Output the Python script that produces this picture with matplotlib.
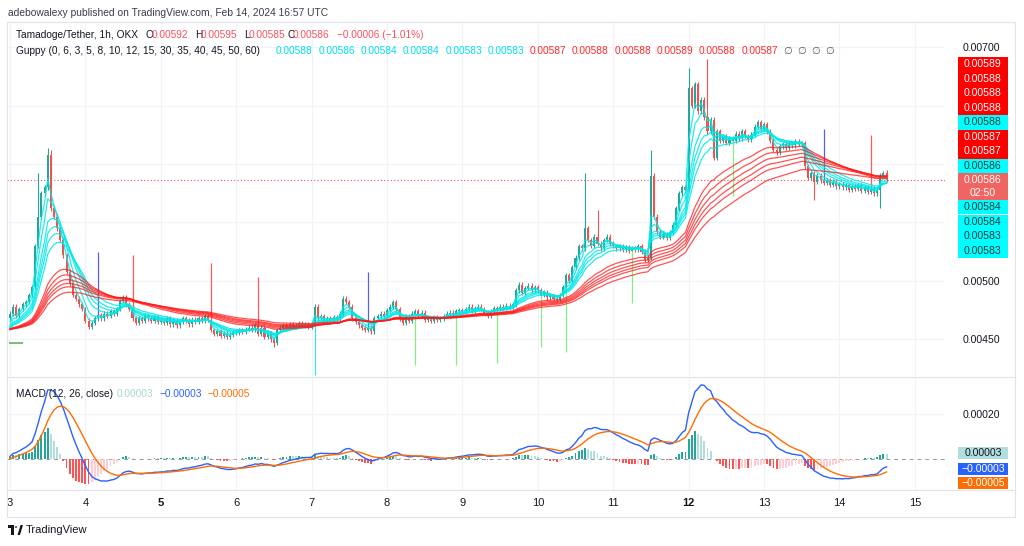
import numpy as np
import matplotlib
matplotlib.use('Agg')
import matplotlib.pyplot as plt
from matplotlib.patches import Rectangle, Polygon, Circle
from matplotlib.transforms import blended_transform_factory

plt.rcParams['font.family'] = ['Liberation Sans', 'DejaVu Sans']

# ---------------- data (prices in units of 1e-5 USDT, hourly from Feb 3 00:00 UTC) -------------
day_labels = ['3', '4', '5', '6', '7', '8', '9', '10', '11', '12', '13', '14', '15']
bold_days = ['5', '12']

prior_level = 458   # average level of the history before Feb 3 (seeds the moving averages)
first_open = 468
c03 = [472, 478, 470, 476, 480, 482, 488, 495, 530, 555, 575, 580, 608, 562, 555, 545, 535, 522, 508, 498, 488, 485, 480, 476]
c04 = [466, 461, 464, 468, 471, 468, 472, 470, 474, 472, 476, 483, 486, 480, 476, 468, 464, 468, 466, 470, 468, 466, 469, 465]
c05 = [466, 464, 468, 463, 466, 462, 465, 468, 466, 463, 467, 465, 468, 466, 470, 467, 458, 455, 457, 453, 455, 452, 454, 456]
c06 = [456, 458, 457, 459, 460, 458, 462, 455, 460, 452, 455, 450, 447, 458, 460, 462, 460, 463, 461, 462, 464, 462, 463, 461]
c07 = [463, 478, 468, 470, 466, 468, 467, 469, 468, 472, 485, 482, 478, 468, 465, 462, 460, 458, 460, 457, 468, 470, 472, 470]
c08 = [475, 478, 482, 476, 468, 464, 470, 466, 472, 474, 470, 473, 467, 468, 466, 469, 467, 468, 470, 472, 473, 471, 474, 475]
c09 = [474, 476, 478, 475, 477, 478, 476, 473, 470, 474, 477, 476, 478, 477, 479, 478, 480, 492, 497, 490, 494, 496, 492, 495]
c10 = [492, 488, 490, 486, 487, 485, 484, 488, 495, 505, 500, 512, 520, 530, 528, 545, 535, 530, 538, 532, 528, 535, 538, 532]
c11 = [530, 528, 530, 527, 529, 526, 528, 527, 530, 525, 518, 520, 590, 555, 542, 538, 540, 537, 542, 548, 562, 575, 580, 578]
c12 = [665, 650, 668, 645, 655, 640, 628, 638, 605, 628, 620, 624, 618, 622, 620, 626, 622, 628, 624, 621, 625, 632, 636, 630]
c13 = [634, 628, 620, 612, 610, 615, 617, 614, 618, 616, 619, 617, 618, 598, 588, 592, 585, 590, 586, 584, 586, 582, 585, 581]
c14 = [583, 580, 582, 578, 581, 579, 582, 577, 580, 576, 579, 575, 578, 590, 592, 586]

# candles with notable wicks (same colour as the candle)
extra_high_index = [9, 12, 13, 183, 187, 204, 216, 222, 279]
extra_high_price = [592, 614, 612, 592, 561, 612, 682, 690, 595]
extra_low_index = [256, 277, 84, 279]
extra_low_price = [569, 562, 444, 585]

# isolated long spikes drawn in their own colour
spike_index = [28, 114, 259, 39, 64, 79, 274, 129, 142, 155, 169, 177, 198, 230, 97]
spike_price = [525, 508, 630, 522, 515, 503, 625, 428, 428, 430, 444, 439, 481, 573, 420]
spike_color = ['#5b5fe0', '#5b5fe0', '#5b5fe0', '#ff5a5a', '#ff5a5a', '#ff5a5a', '#ff5a5a',
               '#86ec86', '#86ec86', '#86ec86', '#86ec86', '#86ec86', '#86ec86', '#86ec86', '#3fe3e3']

marker_price = 447  # small green dash at left edge

guppy_short = [3, 5, 8, 10, 12, 15]
guppy_long = [30, 35, 40, 45, 50, 60]

header_text = 'adebowalexy published on TradingView.com, Feb 14, 2024 16:57 UTC'
symbol_text = 'Tamadoge/Tether, 1h, OKX'
ohlc_letters = ['O', 'H', 'L', 'C']
ohlc_values = ['0.00592', '0.00595', '0.00585', '0.00586']
change_text = '\u22120.00006 (\u22121.01%)'
guppy_title = 'Guppy (0, 6, 3, 5, 8, 10, 12, 15, 30, 35, 40, 45, 50, 60)'
guppy_short_last = ['0.00588', '0.00586', '0.00584', '0.00584', '0.00583', '0.00583']
guppy_long_last = ['0.00587', '0.00588', '0.00588', '0.00589', '0.00588', '0.00587']
macd_title = 'MACD (12, 26, close)'
macd_last = ['0.00003', '\u22120.00003', '\u22120.00005']

tag_values = ['0.00589', '0.00588', '0.00588', '0.00588', '0.00588', '0.00587', '0.00587',
              '0.00586', '0.00586\n02:50', '0.00584', '0.00584', '0.00583', '0.00583']
tag_kinds = ['L', 'L', 'L', 'L', 'S', 'L', 'L', 'S', 'P', 'S', 'S', 'S', 'S']

price_ticks = [0.0045, 0.0050, 0.0055, 0.0060, 0.0065, 0.0070]
macd_ticks = [0.0002]

# ---------------- derived series ----------------
closes = np.array(c03 + c04 + c05 + c06 + c07 + c08 + c09 + c10 + c11 + c12 + c13 + c14, dtype=float) * 1e-5
n = len(closes)
idx = np.arange(n)
opens = np.concatenate([[first_open * 1e-5], closes[:-1]])
opens[279] = 592e-5
highs = np.maximum(opens, closes) + 2e-5
lows = np.minimum(opens, closes) - 2e-5
for i, p in zip(extra_high_index, extra_high_price):
    highs[i] = p * 1e-5
for i, p in zip(extra_low_index, extra_low_price):
    lows[i] = p * 1e-5


def ema(x, period, seed=None):
    a = 2.0 / (period + 1)
    out = np.empty_like(x)
    prev = x[0] if seed is None else seed
    for k in range(len(x)):
        prev = a * x[k] + (1 - a) * prev
        out[k] = prev
    return out


seed = prior_level * 1e-5
macd = ema(closes, 12, seed) - ema(closes, 26, seed)
signal = ema(macd, 9, 0.0)
hist = macd - signal

# ---------------- figure ----------------
W, H = 1024, 546
fig = plt.figure(figsize=(W / 100, H / 100), dpi=100)
fig.patch.set_facecolor('white')


def fx(x):
    return x / W


def fy(y):
    return 1 - y / H


L, R = 7, 945
ax = fig.add_axes([fx(L), fy(376), fx(R) - fx(L), fy(22) - fy(376)])
axm = fig.add_axes([fx(L), fy(490), fx(R) - fx(L), fy(378) - fy(490)])

xmin, xmax = -0.955, 297.6
day_pos = [24 * d for d in range(len(day_labels))]
grid_c = '#f0f3fa'
for a in (ax, axm):
    a.set_xlim(xmin, xmax)
    for s in a.spines.values():
        s.set_visible(False)
    a.set_xticks(day_pos)
    a.tick_params(axis='x', length=0, labelbottom=False)
    a.grid(True, color=grid_c, lw=0.9)
    a.set_axisbelow(True)

ax.set_ylim(0.004188, 0.0072137)
ax.yaxis.tick_right()
ax.set_yticks(price_ticks)
ax.set_yticklabels(['%.5f' % v for v in price_ticks])
ax.tick_params(axis='y', length=0, pad=13, labelsize=7.6, labelcolor='#131722')

# candles
up_c, dn_c = '#26a69a', '#ef5350'
cols = np.where(closes >= opens, up_c, dn_c)
ax.vlines(idx, lows, highs, colors=list(cols), lw=0.8, zorder=2)
body_h = closes - opens
body_h = np.where(np.abs(body_h) < 0.4e-5, 0.4e-5, body_h)
ax.bar(idx, body_h, bottom=opens, width=0.66, color=cols, lw=0, zorder=3)
# long spikes
for i, p, c in zip(spike_index, spike_price, spike_color):
    base = max(opens[i], closes[i]) if p * 1e-5 > closes[i] else min(opens[i], closes[i])
    ax.vlines(i, base, p * 1e-5, colors=c, lw=0.9, zorder=2)
ax.hlines(marker_price * 1e-5, -0.3, 4.2, colors='#5cb85c', lw=1.2, zorder=2)

# guppy
for p in guppy_short:
    ax.plot(idx, ema(closes, p, seed), color='#00e8e8', lw=0.9, alpha=0.85, zorder=4)
for p in guppy_long:
    ax.plot(idx, ema(closes, p, seed), color='#ff1a1a', lw=0.9, alpha=0.75, zorder=4)

# last price line
ax.axhline(closes[-1], color='#ef5350', lw=0.8, ls=(0, (1, 2)), zorder=1)

# MACD pane
axm.set_ylim(-0.000138, 0.00036)
axm.yaxis.tick_right()
axm.set_yticks(macd_ticks)
axm.set_yticklabels(['%.5f' % v for v in macd_ticks])
axm.tick_params(axis='y', length=0, pad=13, labelsize=7.6, labelcolor='#131722')
hcols = []
for k in range(n):
    prev = hist[k - 1] if k > 0 else hist[k]
    if hist[k] >= 0:
        hcols.append('#26a69a' if hist[k] >= prev else '#b2dfdb')
    else:
        hcols.append('#ffcdd2' if hist[k] >= prev else '#ff5252')
axm.axhline(0, color='#9598a1', lw=0.7, ls=(0, (4, 4)), zorder=1)
axm.bar(idx, hist, width=0.6, color=hcols, lw=0, zorder=2)
axm.plot(idx, macd, color='#2962ff', lw=1.0, zorder=3)
axm.plot(idx, signal, color='#ff6d00', lw=1.0, zorder=3)

# time labels
trans = blended_transform_factory(axm.transData, fig.transFigure)
for d, lab in zip(day_pos, day_labels):
    axm.text(d, fy(503), lab, ha='center', va='center', fontsize=8,
             fontweight='bold' if lab in bold_days else 'normal', color='#131722',
             transform=trans, clip_on=False)

# frame / separators
line_c = '#e0e3eb'
fig.add_artist(Rectangle((fx(7), fy(517)), fx(1015) - fx(7), fy(22) - fy(517), fill=False,
                         edgecolor=line_c, lw=0.8, transform=fig.transFigure))
fig.add_artist(plt.Line2D([fx(7), fx(1015)], [fy(377), fy(377)], color=line_c, lw=0.8))
fig.add_artist(plt.Line2D([fx(7), fx(1015)], [fy(490), fy(490)], color=line_c, lw=0.8))

# header texts
dark = '#131722'
red_t = '#f7525f'
fs = 7.3
fig.text(fx(8), fy(13), header_text, fontsize=7.4, color='#3a3e4a', va='center')
fig.text(fx(16), fy(35), symbol_text, fontsize=fs, color=dark, va='center')
for xl, xv, letter, val in zip([146, 195, 244, 287], [152, 201, 249, 293], ohlc_letters, ohlc_values):
    fig.text(fx(xl), fy(35), letter, fontsize=fs, color=dark, va='center')
    fig.text(fx(xv), fy(35), val, fontsize=fs, color=red_t, va='center')
fig.text(fx(337), fy(35), change_text, fontsize=fs, color=red_t, va='center')
fig.text(fx(16), fy(51), guppy_title, fontsize=fs, color=dark, va='center')
for k, v in enumerate(guppy_short_last + guppy_long_last):
    fig.text(fx(276 + 42.3 * k), fy(51), v, fontsize=fs,
             color='#00e0e8' if k < 6 else '#ff2a2a', va='center')
for xk in [783, 797, 811, 825]:
    fig.text(fx(xk), fy(51), '\u2205', fontsize=fs, color='#555a66', va='center')

fig.text(fx(16), fy(394), macd_title, fontsize=fs, color=dark, va='center')
for xk, v, c in zip([117, 160, 208], macd_last, ['#a8d8d2', '#2962ff', '#ff6d00']):
    fig.text(fx(xk), fy(394), v, fontsize=fs, color=c, va='center')

# price-scale tags
kind_style = {'L': ('#ff0000', 'white'), 'S': ('#00ffff', '#0d3b3b'), 'P': ('#ef5350', 'white')}
ytop = 57.0
for v, kd in zip(tag_values, tag_kinds):
    h = 27.0 if kd == 'P' else 14.5
    fc, tc = kind_style[kd]
    fig.add_artist(Rectangle((fx(958), fy(ytop + h)), fx(1008) - fx(958), fy(ytop) - fy(ytop + h),
                             facecolor=fc, edgecolor='none', alpha=0.9 if kd == 'P' else 1.0,
                             transform=fig.transFigure, zorder=5))
    if kd == 'P':
        a_, b_ = v.split('\n')
        fig.text(fx(983), fy(ytop + 7.5), a_, fontsize=7.6, color=tc, ha='center', va='center', zorder=6)
        fig.text(fx(983), fy(ytop + 20), b_, fontsize=7.6, color=tc, ha='center', va='center', zorder=6)
    else:
        fig.text(fx(983), fy(ytop + h / 2), v, fontsize=7.6, color=tc, ha='center', va='center', zorder=6)
    ytop += h

macd_tag_style = [('#b2dfdb', '#131722', 447), ('#2962ff', 'white', 463), ('#ff6d00', 'white', 477)]
for v, (fc, tc, yt) in zip(macd_last, macd_tag_style):
    fig.add_artist(Rectangle((fx(958), fy(yt + 12)), fx(1008) - fx(958), fy(yt) - fy(yt + 12),
                             facecolor=fc, edgecolor='none', transform=fig.transFigure, zorder=5))
    fig.text(fx(983), fy(yt + 6), v, fontsize=7.6, color=tc, ha='center', va='center', zorder=6)

# TradingView logo
fig.add_artist(Rectangle((fx(8), fy(528)), fx(14) - fx(8), fy(525) - fy(528), facecolor=dark,
                         edgecolor='none', transform=fig.transFigure))
fig.add_artist(Rectangle((fx(11), fy(535)), fx(14) - fx(11), fy(528) - fy(535), facecolor=dark,
                         edgecolor='none', transform=fig.transFigure))
fig.add_artist(Circle((fx(16), fy(527)), 1.3 / W, facecolor=dark, edgecolor='none',
                      transform=fig.transFigure))
fig.add_artist(Polygon([(fx(17.5), fy(535)), (fx(20.5), fy(525)), (fx(23), fy(525)), (fx(20), fy(535))],
                       closed=True, facecolor=dark, edgecolor='none', transform=fig.transFigure))
fig.text(fx(26), fy(530), 'TradingView', fontsize=8, color=dark, va='center')

fig.savefig('out.png', dpi=100, facecolor='white')
